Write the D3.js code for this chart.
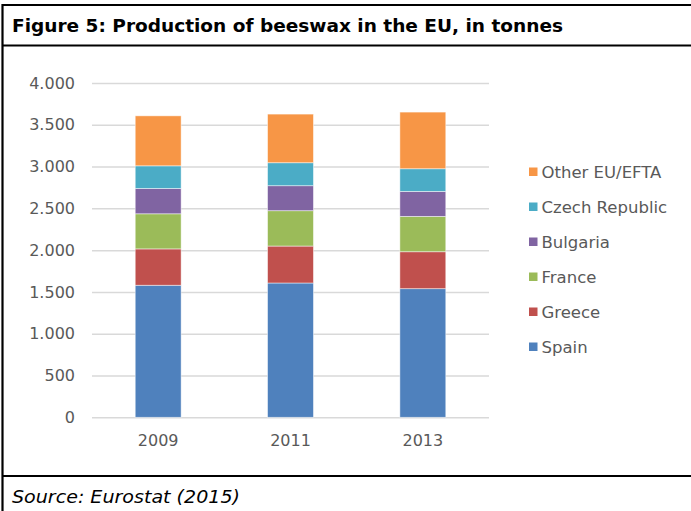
<!DOCTYPE html>
<html><head><meta charset="utf-8">
<script src="https://cdn.jsdelivr.net/npm/d3@7"></script>
<style>body{margin:0;background:#fff}svg{display:block}</style>
</head><body>
<script>
const years = ["2009", "2011", "2013"];
const seriesNames = ["Spain", "Greece", "France", "Bulgaria", "Czech Republic", "Other EU/EFTA"];
const spain = [1580, 1607, 1539];
const greece = [435, 442, 442];
const france = [420, 423, 423];
const bulgaria = [303, 299, 299];
const czech = [271, 275, 271];
const other = [598, 582, 678];
const colors = ["#4F81BD", "#C0504D", "#9BBB59", "#8064A2", "#4BACC6", "#F79646"];
const yTicks = [0, 500, 1000, 1500, 2000, 2500, 3000, 3500, 4000];
const tickLabels = ["0", "500", "1.000", "1.500", "2.000", "2.500", "3.000", "3.500", "4.000"];

const W = 691, H = 511;
const svg = d3.select("body").append("svg").attr("width", W).attr("height", H);
const font = "Verdana, 'DejaVu Sans', sans-serif";

// frame
const fr = svg.append("g").attr("stroke", "#000").attr("stroke-width", 2.2);
fr.append("line").attr("x1", 2.5).attr("x2", W).attr("y1", 5).attr("y2", 5);
fr.append("line").attr("x1", 2.5).attr("x2", W).attr("y1", 45.5).attr("y2", 45.5);
fr.append("line").attr("x1", 2.5).attr("x2", W).attr("y1", 476).attr("y2", 476);
fr.append("line").attr("x1", 2.5).attr("x2", 2.5).attr("y1", 4).attr("y2", H);

svg.append("text").attr("x", 12).attr("y", 31.5).attr("font-family", font)
  .attr("font-weight", "bold").attr("font-size", 17.5).attr("fill", "#000")
  .attr("textLength", 551).attr("lengthAdjust", "spacingAndGlyphs")
  .text("Figure 5: Production of beeswax in the EU, in tonnes");
svg.append("text").attr("x", 12).attr("y", 502.5).attr("font-family", font)
  .attr("font-style", "italic").attr("font-size", 17).attr("fill", "#000")
  .attr("textLength", 228).attr("lengthAdjust", "spacingAndGlyphs")
  .text("Source: Eurostat (2015)");

const data = years.map((y, i) => ({year: y, "Spain": spain[i], "Greece": greece[i], "France": france[i],
  "Bulgaria": bulgaria[i], "Czech Republic": czech[i], "Other EU/EFTA": other[i]}));
const stack = d3.stack().keys(seriesNames)(data);

const x = d3.scaleBand().domain(years).range([92, 489]).paddingInner(0.653).paddingOuter(0.3265);
const y = d3.scaleLinear().domain([0, 4000]).range([417.3, 83]);

const gAxis = svg.append("g").attr("transform", "translate(92,0)")
  .call(d3.axisLeft(y).tickValues(yTicks).tickSize(-397).tickPadding(17)
    .tickFormat((d, i) => tickLabels[i]));
gAxis.select(".domain").remove();
gAxis.selectAll(".tick line").attr("stroke", "#d9d9d9").attr("stroke-width", 1.5);
gAxis.selectAll(".tick text").attr("font-family", font).attr("font-size", 16).attr("fill", "#595959");

svg.append("g").selectAll("g").data(stack).join("g").attr("fill", (d, i) => colors[i])
  .selectAll("rect").data(d => d).join("rect")
  .attr("x", d => x(d.data.year)).attr("width", x.bandwidth())
  .attr("y", d => y(d[1])).attr("height", d => y(d[0]) - y(d[1]))
  .attr("stroke", "#fff").attr("stroke-opacity", 0.6).attr("stroke-width", 0.8);

const gx = svg.append("g").attr("transform", "translate(0,417.3)")
  .call(d3.axisBottom(x).tickSize(0).tickPadding(17));
gx.select(".domain").remove();
gx.selectAll(".tick text").attr("font-family", font).attr("font-size", 16).attr("fill", "#595959");

const legendOrder = seriesNames.slice().reverse();
const lg = svg.append("g").selectAll("g").data(legendOrder).join("g")
  .attr("transform", (d, i) => `translate(529,${172 + i * 35})`);
lg.append("rect").attr("x", 0).attr("y", -4.5).attr("width", 8.5).attr("height", 8.5)
  .attr("fill", d => colors[seriesNames.indexOf(d)]);
lg.append("text").attr("x", 12.5).attr("y", 5.8).attr("font-family", font).attr("font-size", 16.5)
  .attr("fill", "#595959").text(d => d);
</script>
</body></html>
